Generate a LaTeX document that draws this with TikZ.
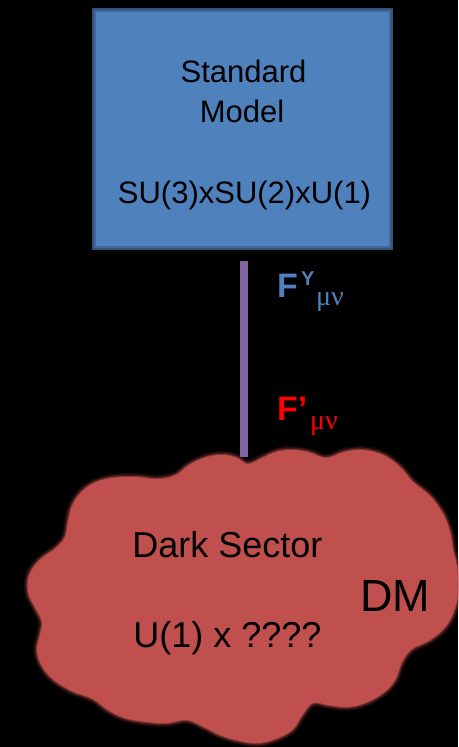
\documentclass[tikz,border=0pt]{standalone}
\usepackage{fontspec}
\setmainfont{Liberation Sans}
\newfontfamily\greekfont{Liberation Serif}
\definecolor{smblue}{HTML}{4F81BD}
\definecolor{dsred}{HTML}{C0504D}
\definecolor{linkpurple}{HTML}{8064A2}
\tikzset{
  lbl/.style={inner sep=0pt, anchor=base, text=black},
  smbox/.style={rectangle, fill=smblue, minimum width=301pt, minimum height=242pt, inner sep=0pt},
  link/.style={draw=linkpurple, line width=8pt},
  sup/.style={inner sep=0pt, anchor=base west},
}
% outline of the dark sector cloud
\newcommand\cloudoutline{%
  plot[smooth cycle, tension=0.65] coordinates {
    (248,464) (262,458) (276,452) (290,450) (308,452) (326,458)
    (344,452) (363,450) (383,455) (400,467) (413,482) (430,496)
    (443,514) (450,532) (453,550) (457,567) (458,590) (455,608)
    (446,626) (430,640) (412,649) (402,662) (395,680) (383,693)
    (365,703) (347,707) (328,705) (313,703) (303,714) (293,729)
    (278,738) (259,743) (240,741) (220,735) (204,727) (187,720)
    (167,723) (147,722) (125,718) (108,710) (93,699) (72,691)
    (54,680) (42,666) (37,650) (40,635) (42,622) (36,609)
    (29,595) (28,580) (33,568) (42,558) (56,548) (65,537)
    (68,522) (73,504) (86,488) (106,479) (133,477) (158,479)
    (176,475) (189,465) (207,457) (224,455) (237,458)}}
\begin{document}
\begin{tikzpicture}[x=1pt, y=-1pt]
  % black backdrop
  \fill[black] (0,0) rectangle (458,747);
  \useasboundingbox (0,0) rectangle (458,747);

  % Standard Model box with a soft dark rim
  \node[smbox] (sm) at (242.5,129) {};
  \draw[black, opacity=0.2, line width=8pt] (sm.south west) rectangle (sm.north east);
  \draw[black, opacity=0.2, line width=4pt] (sm.south west) rectangle (sm.north east);
  \node[lbl, font=\fontsize{31}{31}\selectfont] (std) at (243.5,82) {Standard};
  \node[lbl, font=\fontsize{31}{31}\selectfont] (mdl) at (242,122) {Model};
  \node[lbl, font=\fontsize{31}{31}\selectfont] (grp) at (244.5,203) {SU(3)xSU(2)xU(1)};

  % Dark sector cloud with a soft edge
  \draw[dsred, opacity=0.12, line width=8pt, line join=round] \cloudoutline;
  \draw[dsred, opacity=0.25, line width=5pt, line join=round] \cloudoutline;
  \draw[dsred, opacity=0.5, line width=2pt, line join=round] \cloudoutline;
  \fill[dsred] \cloudoutline;
  \coordinate (cloudtop) at (244,457);
  \node[lbl, font=\fontsize{36}{36}\selectfont] (ds) at (227.5,557) {Dark Sector};
  \node[lbl, font=\fontsize{36}{36}\selectfont] (u1) at (227.5,647) {U(1) x ????};
  \node[lbl, font=\fontsize{45}{45}\selectfont] (dm) at (395,611) {DM};

  % portal connecting the two sectors
  \draw[link] (sm.south -| cloudtop) ++(0,11) coordinate (linktop) -- (cloudtop);

  % field strength labels
  \node[sup, text=smblue, font=\fontsize{34}{34}\selectfont\bfseries] (fy) at (277,297) {F};
  \node[sup, text=smblue, font=\fontsize{20}{20}\selectfont] (fyy) at (301,285) {\textbf{Y}};
  \node[sup, text=smblue, font=\fontsize{28}{28}\selectfont\greekfont] (fymn) at (316,305) {μν};
  \node[sup, text=red, font=\fontsize{34}{34}\selectfont\bfseries] (fp) at (277,420) {F’};
  \node[sup, text=red, font=\fontsize{28}{28}\selectfont\greekfont] (fpmn) at (310,429) {μν};
\end{tikzpicture}
\end{document}
